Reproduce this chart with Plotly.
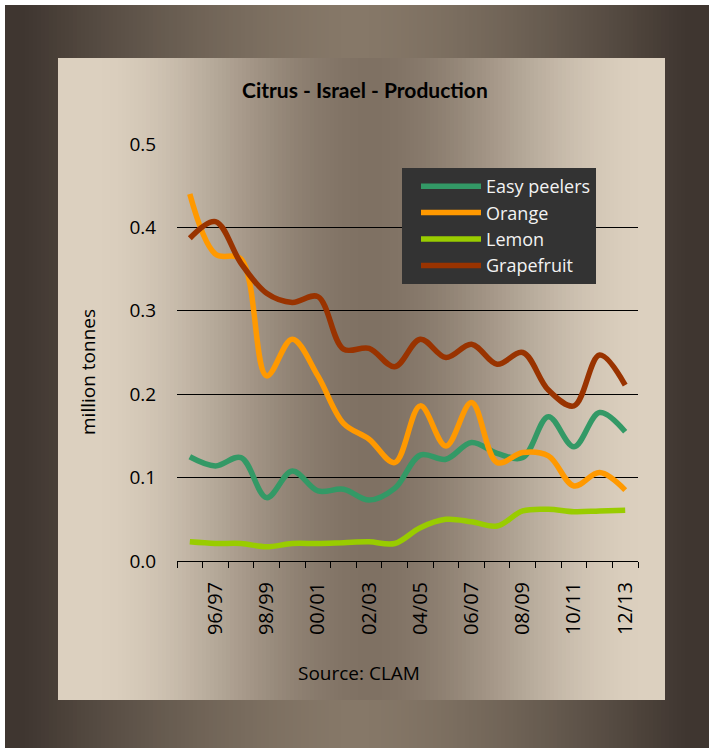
import plotly.graph_objects as go

# seasons on the x axis, production in million tonnes
seasons = ["95/96", "96/97", "97/98", "98/99", "99/00", "00/01", "01/02", "02/03", "03/04",
           "04/05", "05/06", "06/07", "07/08", "08/09", "09/10", "10/11", "11/12", "12/13"]
easy_peelers = [0.125, 0.114, 0.124, 0.076, 0.108, 0.084, 0.086, 0.073, 0.087,
                0.127, 0.122, 0.142, 0.129, 0.124, 0.173, 0.137, 0.178, 0.155]
orange = [0.440, 0.368, 0.362, 0.222, 0.266, 0.222, 0.165, 0.146, 0.118,
          0.186, 0.138, 0.190, 0.118, 0.130, 0.126, 0.090, 0.106, 0.085]
lemon = [0.023, 0.021, 0.021, 0.017, 0.021, 0.021, 0.022, 0.023, 0.021,
         0.040, 0.050, 0.047, 0.042, 0.060, 0.062, 0.059, 0.060, 0.061]
grapefruit = [0.387, 0.407, 0.357, 0.321, 0.310, 0.317, 0.254, 0.255, 0.233,
              0.266, 0.244, 0.260, 0.236, 0.250, 0.205, 0.186, 0.247, 0.211]

series = [("Easy peelers", easy_peelers, "#339966"),
          ("Orange", orange, "#ff9900"),
          ("Lemon", lemon, "#99cc00"),
          ("Grapefruit", grapefruit, "#993300")]

W, H = 709, 751
ML, MR, MT, MB = 177, 71, 144, 190
PW, PH = W - ML - MR, H - MT - MB
FONT = "Open Sans"


def px_x(px):
    return (px - ML) / PW


def px_y(py):
    return (H - MB - py) / PH


def mix(a, b, f):
    return "rgb(%d,%d,%d)" % tuple(round(a[i] + (b[i] - a[i]) * f) for i in range(3))


def smoothstep(t):
    t = max(0.0, min(1.0, t))
    return t * t * (3 - 2 * t)


shapes = []
# outer frame: dark edges, lighter middle
outer_edge, outer_mid = (63, 54, 48), (134, 120, 104)
step = 4
for x0 in range(5, W, step):
    t = min(1.0, abs(x0 + step / 2 - 355) / 330)
    c = mix(outer_mid, outer_edge, t ** 1.5)
    shapes.append(dict(type="rect", xref="paper", yref="paper", layer="below",
                       x0=px_x(x0), x1=px_x(min(x0 + step + 0.5, W)),
                       y0=px_y(748), y1=px_y(5), line_width=0, fillcolor=c))
# inner panel: light edges, darker middle
inner_edge, inner_mid = (220, 208, 191), (127, 113, 99)
for x0 in range(58, 665, step):
    f = smoothstep(abs(x0 + step / 2 - 370) / 280)
    c = mix(inner_mid, inner_edge, f)
    shapes.append(dict(type="rect", xref="paper", yref="paper", layer="below",
                       x0=px_x(x0), x1=px_x(min(x0 + step + 0.5, 665)),
                       y0=px_y(700), y1=px_y(58), line_width=0, fillcolor=c))

fig = go.Figure()
idx = list(range(len(seasons)))
for name, vals, col in series:
    fig.add_trace(go.Scatter(x=idx, y=vals, name=name, mode="lines",
                             line=dict(color=col, width=5.5, shape="spline", smoothing=1)))

note = dict(xref="paper", yref="paper", showarrow=False, xanchor="center", yanchor="middle")
fig.update_layout(
    width=W, height=H,
    margin=dict(l=ML, r=MR, t=MT, b=MB),
    paper_bgcolor="white",
    plot_bgcolor="rgba(0,0,0,0)",
    font=dict(family=FONT, size=19, color="black"),
    shapes=shapes,
    showlegend=True,
    legend=dict(x=px_x(402), y=px_y(168), xanchor="left", yanchor="top",
                bgcolor="#333333", borderwidth=0, font=dict(color="#f2f2f2", size=18),
                itemwidth=60, indentation=14, entrywidth=190, entrywidthmode="pixels"),
    annotations=[
        dict(note, text="<b>Citrus - Israel - Production</b>", x=px_x(365), y=px_y(90),
             font=dict(family="Lato", size=21)),
        dict(note, text="million tonnes", x=px_x(88), y=px_y(372), textangle=-90),
        dict(note, text="Source: CLAM", x=px_x(359), y=px_y(673)),
    ],
)
fig.update_xaxes(range=[-0.5, len(seasons) - 0.5], tickmode="array",
                 tickvals=idx[1::2], ticktext=seasons[1::2], tickangle=-90,
                 tickfont=dict(size=20),
                 ticks="outside", ticklen=12, tickcolor="rgba(0,0,0,0)",
                 showline=True, linecolor="black", linewidth=1, showgrid=False, zeroline=False,
                 minor=dict(tickmode="array", tickvals=[i - 0.5 for i in range(len(seasons) + 1)],
                            ticks="outside", ticklen=6, tickcolor="black", showgrid=False))
fig.update_yaxes(range=[0, 0.5], dtick=0.1, tickformat=".1f", ticks="outside", ticklen=16,
                 tickcolor="rgba(0,0,0,0)", showgrid=True, gridcolor="black", gridwidth=1,
                 zeroline=False, showline=False)

fig.write_html("out.html", config={"displayModeBar": False},
               post_script="document.body.style.margin='0';")
